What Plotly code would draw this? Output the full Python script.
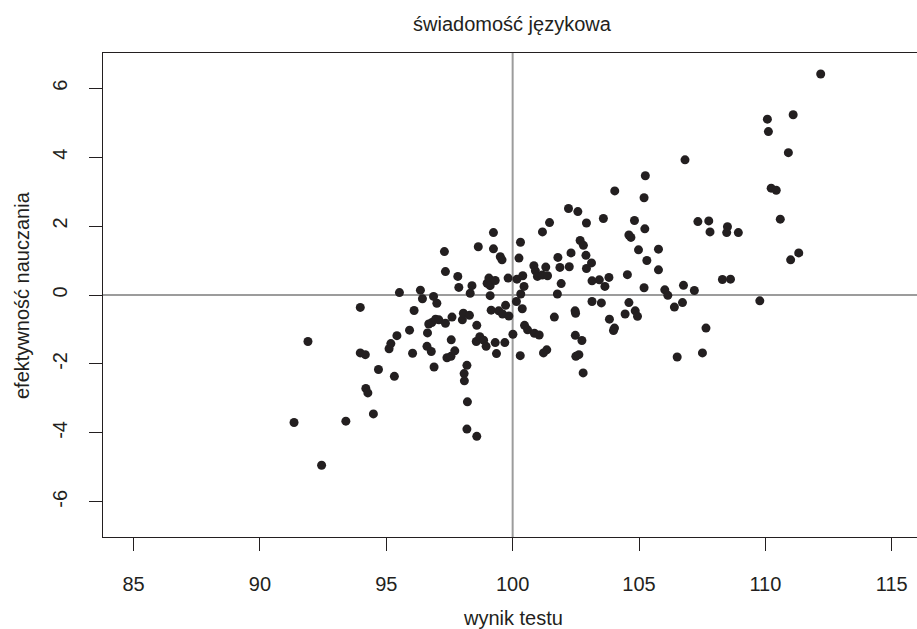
import plotly.graph_objects as go

# wynik testu (x) and efektywność nauczania (y)
wynik_testu = [
    91.35, 91.90, 92.44, 93.40, 93.97, 93.97, 94.17, 94.19, 94.27, 94.49,
    94.69, 95.11, 95.18, 95.32, 95.42, 95.52, 95.92, 96.04, 96.10, 96.35,
    96.43, 96.61, 96.68, 96.63, 96.78, 96.80, 96.87, 96.89, 96.95, 97.00,
    97.08, 97.30, 97.34, 97.34, 97.40, 97.56, 97.57, 97.60, 97.71, 97.83,
    97.87, 98.01, 98.05, 98.08, 98.09, 98.19, 98.21, 98.19, 98.29, 98.32,
    98.39, 98.56, 98.58, 98.58, 98.64, 98.70, 98.85, 98.95, 98.99, 99.06,
    99.11, 99.11, 99.15, 99.24, 99.24, 99.31, 99.31, 99.36, 99.45, 99.51,
    99.58, 99.60, 99.69, 99.72, 99.82, 99.85, 100.01, 100.15, 100.17, 100.25,
    100.30, 100.31, 100.32, 100.38, 100.40, 100.45, 100.47, 100.59, 100.84, 100.86,
    100.90, 100.98, 101.05, 101.17, 101.18, 101.22, 101.31, 101.35, 101.38, 101.46,
    101.65, 101.77, 101.79, 101.87, 101.92, 102.21, 102.24, 102.31, 102.47, 102.49,
    102.48, 102.50, 102.62, 102.58, 102.67, 102.74, 102.79, 102.80, 102.90, 102.92,
    102.92, 103.12, 103.14, 103.14, 103.43, 103.51, 103.59, 103.65, 103.81, 103.83,
    103.99, 104.03, 104.04, 104.45, 104.54, 104.60, 104.68, 104.60, 104.82, 104.85,
    104.94, 104.98, 105.20, 105.20, 105.23, 105.25, 105.31, 105.77, 105.77, 106.02,
    106.14, 106.40, 106.51, 106.72, 106.76, 106.82, 107.19, 107.33, 107.51, 107.65,
    107.76, 107.81, 108.30, 108.62, 108.50, 108.47, 108.93, 109.78, 110.08, 110.12,
    110.23, 110.43, 110.59, 110.91, 111.00, 111.10, 111.32, 112.19,
]
efektywnosc = [
    -3.70, -1.35, -4.94, -3.66, -0.36, -1.68, -1.73, -2.71, -2.84, -3.45,
    -2.16, -1.56, -1.41, -2.36, -1.18, 0.07, -1.02, -1.69, -0.45, 0.14,
    -0.11, -1.49, -0.84, -1.10, -1.64, -0.80, -0.04, -2.09, -0.70, -0.24,
    -0.72, 1.26, 0.68, -0.82, -1.82, -1.78, -1.30, -0.64, -1.62, 0.54,
    0.22, -0.72, -0.53, -2.28, -2.49, -2.04, -3.10, -3.89, -0.59, 0.05,
    0.27, -1.35, -0.88, -4.10, 1.40, -1.21, -1.31, -1.49, 0.34, 0.49,
    0.27, -0.02, -0.44, 1.81, 1.34, 0.42, -1.38, -1.70, -0.46, 1.11,
    1.02, -0.55, -1.38, -0.30, 0.49, -0.61, -1.14, -0.19, 0.46, 1.07,
    -1.76, 1.53, 0.03, -0.40, 0.56, 0.25, -0.88, -1.01, 0.85, -1.11,
    0.70, 0.54, -1.16, 0.58, 1.83, -1.68, 0.81, -1.59, 0.56, 2.10,
    -0.64, 0.03, 1.09, 0.80, 0.33, 2.51, 0.82, 1.22, -0.46, -0.53,
    -1.17, -1.78, -1.73, 2.42, 1.58, -1.32, -2.26, 1.44, 1.15, 2.09,
    0.77, 0.93, 0.41, -0.19, 0.44, -0.23, 2.22, 0.25, 0.51, -0.70,
    -1.03, -0.96, 3.02, -0.55, 0.59, 1.74, 1.67, -0.22, 2.16, -0.46,
    -0.62, 1.31, 2.82, 0.21, 1.92, 3.46, 1.00, 1.33, 0.73, 0.15,
    -0.01, -0.35, -1.80, -0.22, 0.28, 3.92, 0.13, 2.13, -1.68, -0.96,
    2.15, 1.83, 0.45, 0.46, 1.98, 1.81, 1.81, -0.17, 5.10, 4.74,
    3.10, 3.04, 2.20, 4.13, 1.02, 5.23, 1.22, 6.41,
]

x_ticks = [85, 90, 95, 100, 105, 110, 115]
y_ticks = [-6, -4, -2, 0, 2, 4, 6]

tytul = "świadomość językowa"
x_tytul = "wynik testu"
y_tytul = "efektywność nauczania"

INK = "#231f20"
W, H = 917, 629
ML, MR, MT, MB = 103, 0, 53, 92
PW, PH = W - ML - MR, H - MT - MB

fig = go.Figure(
    go.Scatter(
        x=wynik_testu, y=efektywnosc, mode="markers",
        marker=dict(color=INK, size=9, line=dict(width=0)),
        showlegend=False,
    )
)

ref_line = dict(color="#9c9c9c", width=2)
fig.add_shape(type="line", xref="x", yref="paper", x0=100, x1=100, y0=0, y1=1,
              line=ref_line, layer="below")
fig.add_shape(type="line", xref="paper", yref="y", x0=0, x1=1, y0=0, y1=0,
              line=ref_line, layer="below")

axis_common = dict(
    ticks="outside", ticklen=13, tickwidth=1.3, tickcolor=INK,
    showline=True, linecolor=INK, linewidth=1.3,
    showgrid=False, zeroline=False,
    tickfont=dict(size=20, color=INK),
)

fig.update_layout(
    width=W, height=H,
    margin=dict(l=ML, r=MR, t=MT, b=MB, pad=0),
    paper_bgcolor="white", plot_bgcolor="white",
    font=dict(family="Liberation Sans, Arial, sans-serif", size=20, color=INK),
    xaxis=dict(range=[83.79, 116.0], tickvals=x_ticks,
               ticktext=[str(v) for v in x_ticks], mirror=True,
               ticklabelstandoff=16, **axis_common),
    yaxis=dict(range=[-7.02, 7.02], tickvals=y_ticks,
               ticktext=[str(v) for v in y_ticks], tickangle=-90,
               mirror=False, ticklabelstandoff=14, **axis_common),
    annotations=[
        dict(text=tytul, xref="x", yref="paper", x=100,
             y=1 + (MT - 24) / PH, xanchor="center", yanchor="middle",
             showarrow=False, font=dict(size=20, color=INK)),
        dict(text=x_tytul, xref="x", yref="paper", x=100,
             y=-(618 - (H - MB)) / PH, xanchor="center", yanchor="middle",
             showarrow=False, font=dict(size=20, color=INK)),
        dict(text=y_tytul, xref="paper", yref="y", x=-(ML - 22) / PW, y=0,
             xanchor="center", yanchor="middle", textangle=-90,
             showarrow=False, font=dict(size=20, color=INK)),
    ],
)

fig.write_html("out.html")
